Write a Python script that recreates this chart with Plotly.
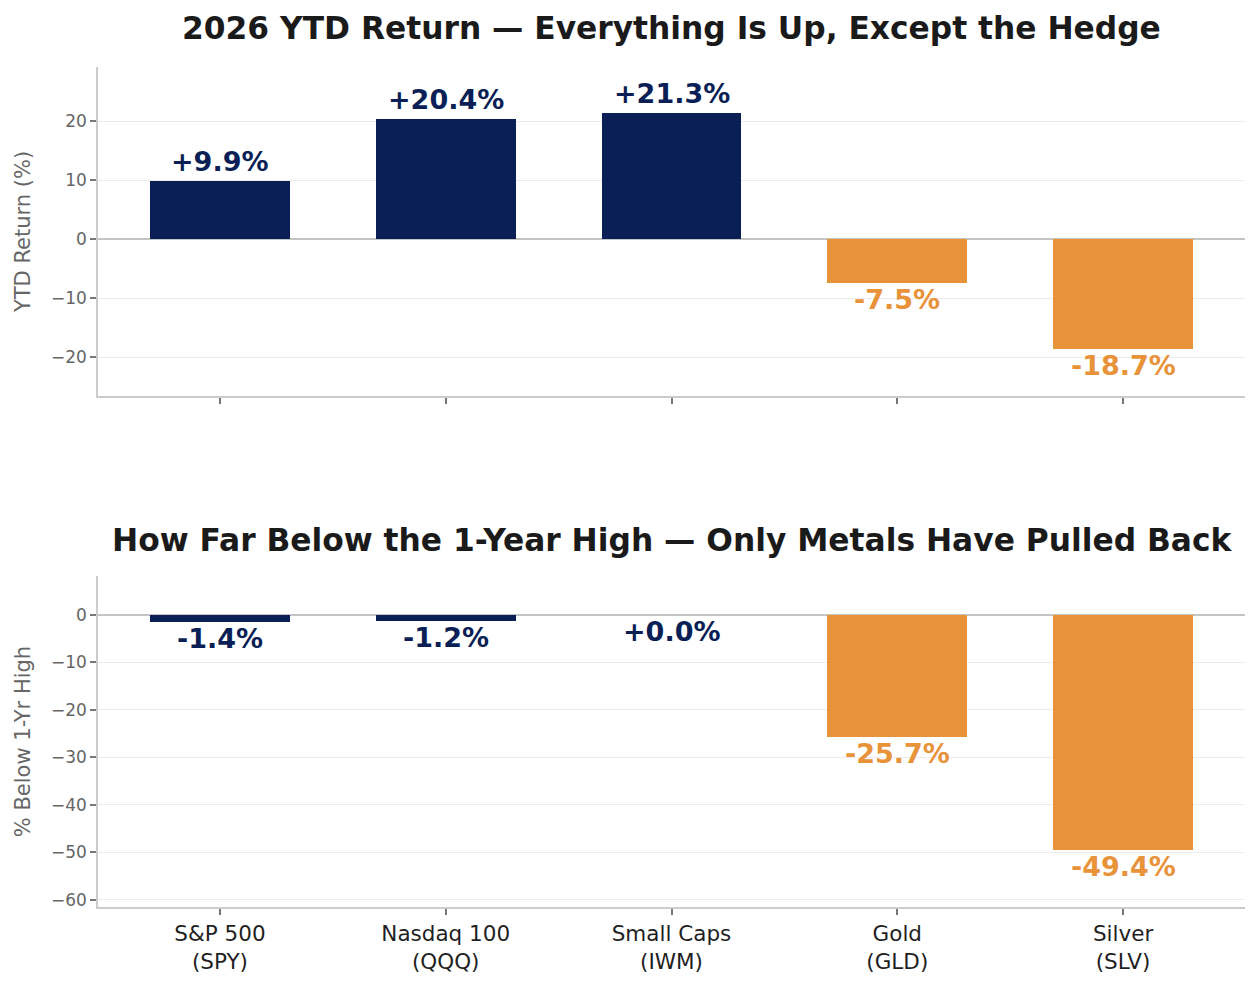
import plotly.graph_objects as go
from plotly.subplots import make_subplots

categories = ["S&P 500<br>(SPY)", "Nasdaq 100<br>(QQQ)", "Small Caps<br>(IWM)", "Gold<br>(GLD)", "Silver<br>(SLV)"]
ytd_return = [9.9, 20.4, 21.3, -7.5, -18.7]
below_high = [-1.4, -1.2, 0.0, -25.7, -49.4]
groups = ["equity", "equity", "equity", "metal", "metal"]
top_title = "2026 YTD Return — Everything Is Up, Except the Hedge"
bottom_title = "How Far Below the 1-Year High — Only Metals Have Pulled Back"

NAVY = "#0a1f56"
ORANGE = "#e8923a"
colors = [NAVY if g == "equity" else ORANGE for g in groups]
FONT = "DejaVu Sans"

W, H = 1260, 986
ML, MR, MT, MB = 98, 15, 67, 79
PH = H - MT - MB

fig = make_subplots(rows=2, cols=1, vertical_spacing=0.0)
xs = list(range(len(categories)))

fig.add_trace(go.Bar(x=xs, y=ytd_return, marker=dict(color=colors, line=dict(width=0)),
                     width=0.62, showlegend=False, hoverinfo="skip"), row=1, col=1)
fig.add_trace(go.Bar(x=xs, y=below_high, marker=dict(color=colors, line=dict(width=0)),
                     width=0.62, showlegend=False, hoverinfo="skip"), row=2, col=1)

annotations = []
for axis_i, vals in ((1, ytd_return), (2, below_high)):
    for i, v in enumerate(vals):
        pos = v > 0
        annotations.append(dict(
            x=i, y=v, xref=f"x{axis_i}" if axis_i > 1 else "x", yref=f"y{axis_i}" if axis_i > 1 else "y",
            text=f"{v:+.1f}%", showarrow=False,
            yanchor="bottom" if pos else "top", yshift=2 if pos else 1,
            font=dict(family=FONT, size=27, color=colors[i], weight="bold"),
        ))

annotations.append(dict(x=0.5, y=1 + (MT - 28) / PH, xref="paper", yref="paper", text=top_title,
                        showarrow=False, xanchor="center", yanchor="middle",
                        font=dict(family=FONT, size=31.3, color="#1a1a1a", weight="bold")))
annotations.append(dict(x=0.5, y=(H - MB - 540) / PH, xref="paper", yref="paper", text=bottom_title,
                        showarrow=False, xanchor="center", yanchor="middle",
                        font=dict(family=FONT, size=31.3, color="#1a1a1a", weight="bold")))

top_dom = [(H - MB - 396) / PH, 1.0]
bot_dom = [0.0, (H - MB - 576) / PH]

common_x = dict(range=[-0.54, 4.54], showgrid=False, zeroline=False, showline=True,
                linecolor="#cccccc", linewidth=1.5, ticks="outside", ticklen=6, tickwidth=1.5,
                tickcolor="#777777", tickvals=xs, ticktext=categories)
common_y = dict(showgrid=True, gridcolor="#ebebeb", gridwidth=1, zeroline=True, zerolinecolor="#c4c4c4",
                zerolinewidth=1.5, showline=True, linecolor="#cccccc", linewidth=1.5, ticks="outside",
                ticklen=6, tickwidth=1.5, tickcolor="#777777", dtick=10,
                tickfont=dict(family=FONT, size=17, color="#666666"))

fig.update_layout(
    width=W, height=H, margin=dict(l=ML, r=MR, t=MT, b=MB),
    paper_bgcolor="white", plot_bgcolor="white",
    font=dict(family=FONT),
    annotations=annotations, bargap=0,
    xaxis=dict(common_x, domain=[0, 1], showticklabels=False),
    xaxis2=dict(common_x, domain=[0, 1], showticklabels=True,
                tickfont=dict(family=FONT, size=21.5, color="#1f1f1f")),
    yaxis=dict(common_y, domain=top_dom, range=[-26.6, 29.15],
               title=dict(text="YTD Return (%)", font=dict(family=FONT, size=21, color="#666666"), standoff=15)),
    yaxis2=dict(common_y, domain=bot_dom, range=[-61.5, 8.2],
                title=dict(text="% Below 1-Yr High", font=dict(family=FONT, size=21, color="#666666"), standoff=15)),
)

fig.write_html("out.html")
